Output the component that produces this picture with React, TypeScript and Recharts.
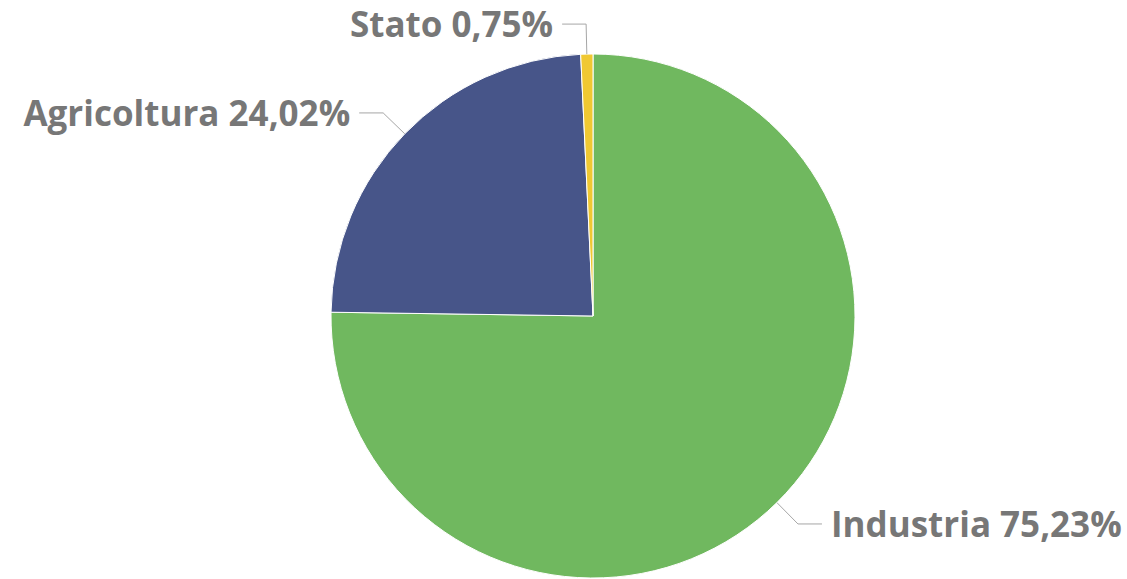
import React from "react";
import { PieChart, Pie, Cell } from "recharts";

const categories = ["Industria", "Agricoltura", "Stato"];
const values = [75.23, 24.02, 0.75];
const colors = ["#70B85F", "#475589", "#F0C832"];

const data = categories.map((name, i) => ({ name, value: values[i] }));

const RAD = Math.PI / 180;

const renderLabel = (props: any) => {
  const { cx, cy, midAngle, outerRadius, index } = props;
  const cos = Math.cos(-midAngle * RAD);
  const sin = Math.sin(-midAngle * RAD);
  const sx = cx + outerRadius * cos;
  const sy = cy + outerRadius * sin;
  const ex = cx + (outerRadius + 30) * cos;
  const ey = cy + (outerRadius + 30) * sin;
  const dir = cos >= 0 ? 1 : -1;
  const hx = ex + dir * 24;
  const tx = hx + dir * 9;
  const text = `${categories[index]} ${values[index].toFixed(2).replace(".", ",")}%`;
  return (
    <g>
      <polyline
        points={`${sx},${sy} ${ex},${ey} ${hx},${ey}`}
        fill="none"
        stroke="#a6a6a6"
        strokeWidth={1}
      />
      <text
        x={tx}
        y={ey + 13}
        textAnchor={dir > 0 ? "start" : "end"}
        fill="#777777"
        fontFamily="'Open Sans', sans-serif"
        fontWeight={700}
        fontSize={35}
      >
        {text}
      </text>
    </g>
  );
};

export default function App() {
  return (
    <div style={{ position: "absolute", left: 0, top: 0, width: 1127, height: 579, background: "#fff" }}>
      <PieChart width={1127} height={579} margin={{ top: 0, right: 0, bottom: 0, left: 0 }}>
        <Pie
          data={data}
          dataKey="value"
          nameKey="name"
          cx={593}
          cy={316}
          outerRadius={262}
          startAngle={90}
          endAngle={-270}
          stroke="#fff"
          strokeWidth={1}
          label={renderLabel}
          labelLine={false}
          isAnimationActive={false}
        >
          {data.map((d, i) => (
            <Cell key={d.name} fill={colors[i]} />
          ))}
        </Pie>
      </PieChart>
    </div>
  );
}
